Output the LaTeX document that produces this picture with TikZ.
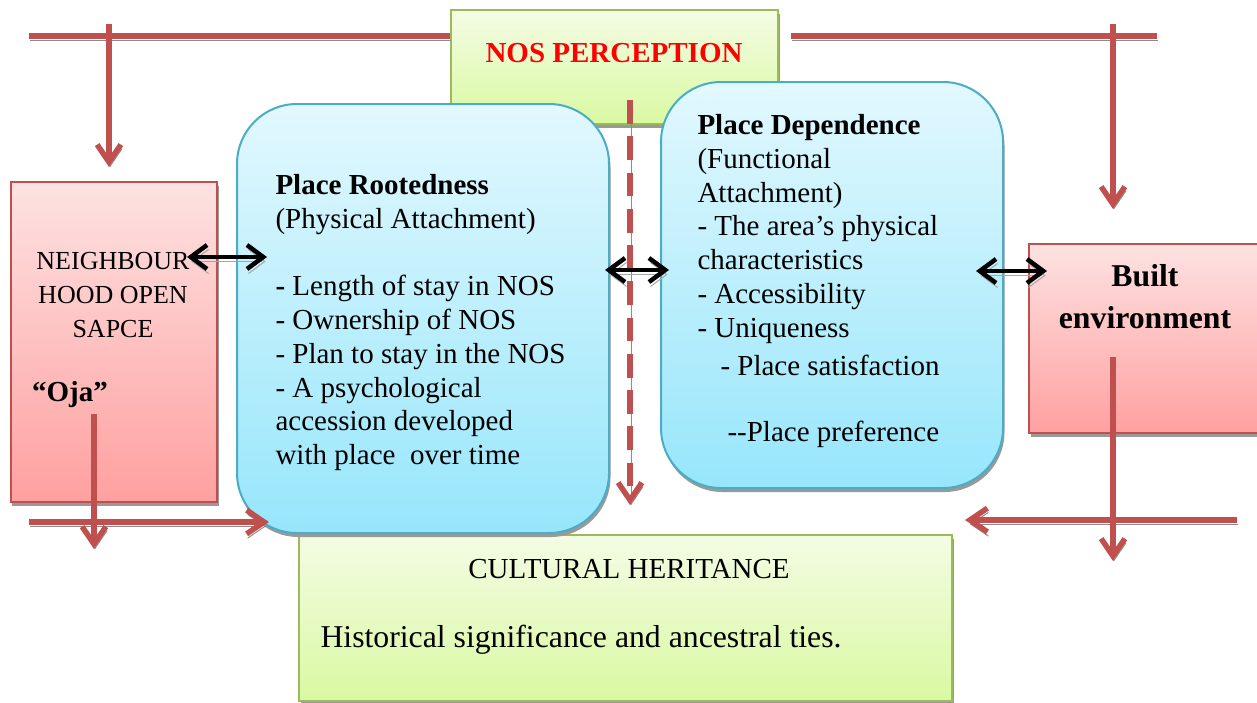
\documentclass[tikz,border=0pt]{standalone}
\usepackage{fontspec}
\setmainfont{Liberation Serif}
\usetikzlibrary{arrows.meta,shadows,calc}

\definecolor{lnred}{HTML}{C0504D}
\definecolor{pnktop}{HTML}{FDE2E2}
\definecolor{pnkbot}{HTML}{FFA0A0}
\definecolor{bluetop}{HTML}{E2F8FE}
\definecolor{bluebot}{HTML}{97E6FB}
\definecolor{blueline}{HTML}{4BACC6}
\definecolor{grntop}{HTML}{F4FCE4}
\definecolor{grnbot}{HTML}{D9F9A2}
\definecolor{grnline}{HTML}{9BBB59}
\newcommand\txt{\fontsize{11.6}{13.5}\selectfont}

\begin{document}
\begin{tikzpicture}[x=0.4pt,y=-0.4pt]
\tikzset{every node/.style={font=\txt}}
\tikzset{boxshadow/.style={drop shadow={shadow xshift=0.6pt,shadow yshift=-1.6pt,fill=black!40,opacity=1}}}
\tikzset{greenbox/.style={rectangle,draw=grnline,line width=0.8pt,top color=grntop,bottom color=grnbot,boxshadow}}
\tikzset{pinkbox/.style={rectangle,draw=lnred,line width=0.8pt,top color=pnktop,bottom color=pnkbot,boxshadow}}
\tikzset{bluebox/.style={rectangle,rounded corners=24pt,draw=blueline,line width=0.8pt,top color=bluetop,bottom color=bluebot,boxshadow}}
\tikzset{boxtext/.style={align=left,anchor=north west,inner sep=0pt}}
\tikzset{redline/.style={lnred,line width=2.2pt,preaction={draw=black!45,transform canvas={xshift=0.4pt,yshift=-1.7pt}}}}
\tikzset{redarrow/.style={redline,-{Straight Barb[length=7pt,width=9.5pt]}}}
\tikzset{bothway/.style={black,line width=1.8pt,{Straight Barb[length=6.5pt,width=9.6pt]}-{Straight Barb[length=6.5pt,width=9.6pt]},preaction={draw=black!35,transform canvas={xshift=0.6pt,yshift=-1.8pt}}}}
\useasboundingbox (0,0) rectangle (1257,702);

% boxes
\node[greenbox,minimum width=130.8pt,minimum height=45.6pt] (perc) at (614.5,67) {};
\node[font=\txt\bfseries,text=red] (perct) at (614,53) {NOS PERCEPTION};
\node[pinkbox,minimum width=82.4pt,minimum height=128pt] (nbh) at (114,342) {};
\node[font=\fontsize{10.4}{13.6}\selectfont,align=center] (nbht) at (113,295) {NEIGHBOUR\\HOOD OPEN\\SAPCE};
\node[font=\txt\bfseries] (oja) at (70,395) {“Oja”};
\node[pinkbox,minimum width=93.2pt,minimum height=75.6pt] (built) at (1145.5,338.5) {};
\node[font=\fontsize{12.7}{16.8}\selectfont\bfseries,align=center] (builtt) at (1145,297) {Built\\environment};
\node[greenbox,minimum width=261.2pt,minimum height=66.4pt] (cult) at (625.5,618) {};
\node (cultt) at (629,569) {CULTURAL HERITANCE};
\node[font=\fontsize{12.7}{15}\selectfont,anchor=west,inner sep=0pt] (hist) at (320,640) {Historical significance and ancestral ties.};
\node[bluebox,minimum width=148.8pt,minimum height=171.6pt] (lroot) at (423,318.5) {};
\node[boxtext] (lroott) at (275,174)
  {\textbf{Place Rootedness}\\(Physical Attachment)\\[13.5pt]\textbf{-} Length of stay in NOS\\- Ownership of NOS\\- Plan to stay in the NOS\\- A psychological\\accession developed\\with place\ \ over time};
\node[bluebox,minimum width=136.8pt,minimum height=162.4pt] (rdep) at (832,285) {};
\node[boxtext] (rdept) at (697,114)
  {\textbf{Place Dependence}\\(Functional\\Attachment)\\- The area’s physical\\characteristics\\- Accessibility\\- Uniqueness\\[2pt]\hspace*{9.2pt}- Place satisfaction\\[12.9pt]\hspace*{12pt}-{}-Place preference};

% red lines
\coordinate (tl) at (29,36);
\coordinate (tr1) at (791,36);
\coordinate (tr2) at (1157,36);
\coordinate (dl) at (109,24);
\coordinate (dr) at (1113,24);
\coordinate (dtop) at (630,100);
\coordinate (bl) at (29,522);
\coordinate (ojad) at (94,414);
\coordinate (br) at (1237,520);
\coordinate (bd) at (1113,357);
\draw[redline] (tl) -- (tl -| perc.west);
\draw[redline] (tr1) -- (tr2);
\draw[redarrow] (dl) -- ($(dl |- nbh.north)+(0,-14)$);
\draw[redarrow] (dr) -- ($(dr |- built.north)+(0,-34)$);
\draw[redarrow,dash pattern=on 9.5pt off 5pt] (dtop) -- ($(dtop |- cult.north)+(0,-29)$);
\draw[redarrow] (bl) -- ($(bl -| lroot.west)+(33,0)$);
\draw[redarrow] (ojad) -- ($(ojad |- nbh.south)+(0,46)$);
\draw[redarrow] (br) -- ($(br -| rdep.east)+(-39,0)$);
\draw[redarrow] (bd) -- ($(bd |- cult.north)+(0,27)$);

% two-way arrows
\draw[bothway] ($(nbh.east)+(-31,-85)$) -- ($(lroot.west)+(31,-61.5)$);
\draw[bothway] ($(lroot.east)+(-5,-48.5)$) -- ($(rdep.west)+(9,-15)$);
\draw[bothway] ($(rdep.east)+(-28,-14)$) -- ($(built.west)+(19,-67.5)$);
\end{tikzpicture}
\end{document}
